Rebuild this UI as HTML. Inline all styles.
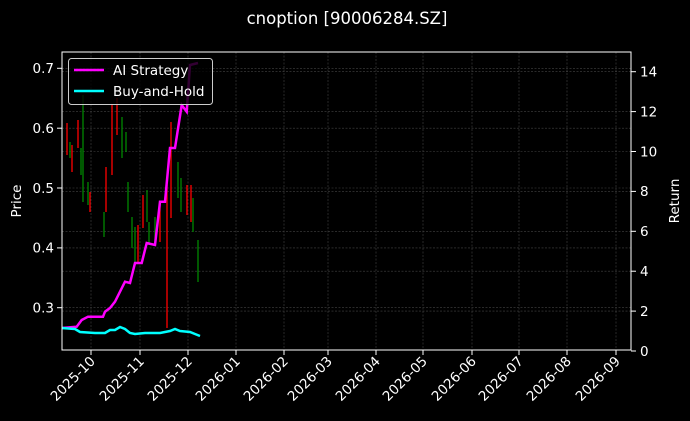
<!DOCTYPE html>
<html><head><meta charset="utf-8"><style>
html,body{margin:0;padding:0;background:#000;}
svg{display:block;font-family:"DejaVu Sans","Liberation Sans",sans-serif;}
</style></head><body>
<svg width="690" height="421" viewBox="0 0 690 421" xmlns="http://www.w3.org/2000/svg">
<rect width="690" height="421" fill="#000"/>
<text x="347" y="24" fill="#fff" font-size="16.5" text-anchor="middle">cnoption [90006284.SZ]</text>
<g stroke="#444" stroke-width="0.6" stroke-dasharray="2,1.5">
<line x1="91" y1="52" x2="91" y2="350"/><line x1="140" y1="52" x2="140" y2="350"/><line x1="188" y1="52" x2="188" y2="350"/><line x1="236" y1="52" x2="236" y2="350"/><line x1="284" y1="52" x2="284" y2="350"/><line x1="328" y1="52" x2="328" y2="350"/><line x1="376" y1="52" x2="376" y2="350"/><line x1="423" y1="52" x2="423" y2="350"/><line x1="472" y1="52" x2="472" y2="350"/><line x1="519" y1="52" x2="519" y2="350"/><line x1="567" y1="52" x2="567" y2="350"/><line x1="616" y1="52" x2="616" y2="350"/>
<line x1="62" y1="68.3" x2="631" y2="68.3"/><line x1="62" y1="128.2" x2="631" y2="128.2"/><line x1="62" y1="188" x2="631" y2="188"/><line x1="62" y1="247.9" x2="631" y2="247.9"/><line x1="62" y1="307.7" x2="631" y2="307.7"/>
<line x1="62" y1="71.7" x2="631" y2="71.7"/><line x1="62" y1="111.6" x2="631" y2="111.6"/><line x1="62" y1="151.5" x2="631" y2="151.5"/><line x1="62" y1="191.4" x2="631" y2="191.4"/><line x1="62" y1="231.3" x2="631" y2="231.3"/><line x1="62" y1="271.2" x2="631" y2="271.2"/><line x1="62" y1="311.1" x2="631" y2="311.1"/>
</g>
<g stroke-width="1.3">
<line x1="67" y1="123" x2="67" y2="155" stroke="#f00"/>
<line x1="70" y1="142" x2="70" y2="158" stroke="#080"/>
<line x1="72" y1="145" x2="72" y2="172" stroke="#f00"/>
<line x1="78" y1="120" x2="78" y2="148" stroke="#f00"/>
<line x1="81" y1="148" x2="81" y2="175" stroke="#080"/>
<line x1="83" y1="95" x2="83" y2="202" stroke="#080"/>
<line x1="88" y1="182" x2="88" y2="205" stroke="#080"/>
<line x1="90" y1="192" x2="90" y2="212" stroke="#f00"/>
<line x1="104" y1="212" x2="104" y2="237" stroke="#080"/>
<line x1="106" y1="167" x2="106" y2="212" stroke="#f00"/>
<line x1="112" y1="105" x2="112" y2="175" stroke="#f00"/>
<line x1="117" y1="98" x2="117" y2="135" stroke="#f00"/>
<line x1="122" y1="117" x2="122" y2="158" stroke="#080"/>
<line x1="126" y1="132" x2="126" y2="152" stroke="#080"/>
<line x1="128" y1="182" x2="128" y2="212" stroke="#080"/>
<line x1="132" y1="217" x2="132" y2="248" stroke="#080"/>
<line x1="135" y1="227" x2="135" y2="265" stroke="#080"/>
<line x1="138" y1="225" x2="138" y2="262" stroke="#f00"/>
<line x1="143" y1="195" x2="143" y2="228" stroke="#f00"/>
<line x1="147" y1="190" x2="147" y2="222" stroke="#080"/>
<line x1="149" y1="222" x2="149" y2="245" stroke="#080"/>
<line x1="155" y1="217" x2="155" y2="242" stroke="#080"/>
<line x1="160" y1="202" x2="160" y2="242" stroke="#f00"/>
<line x1="167" y1="185" x2="167" y2="328" stroke="#f00"/>
<line x1="171" y1="122" x2="171" y2="218" stroke="#f00"/>
<line x1="178" y1="162" x2="178" y2="198" stroke="#080"/>
<line x1="181" y1="178" x2="181" y2="212" stroke="#080"/>
<line x1="187" y1="185" x2="187" y2="215" stroke="#f00"/>
<line x1="191" y1="185" x2="191" y2="222" stroke="#f00"/>
<line x1="193" y1="198" x2="193" y2="232" stroke="#080"/>
<line x1="198" y1="240" x2="198" y2="282" stroke="#080"/>
</g>
<polyline fill="none" stroke="#ff00ff" stroke-width="2.5" points="61.7,328 76.7,326.7 81.7,320 88,316.7 103,316.7 105,311.7 110,308 115,301.7 120,291.7 125,281.7 130,283 135,263 141.7,263 146.7,243 155,245 160,201.7 165,201.7 170,148 175,148 181.7,105 186.7,111.7 190,65 198,63"/>
<polyline fill="none" stroke="#00ffff" stroke-width="2.5" points="61.7,328 75,329 80,332 95,333 105,333 110,330 115,330 120,327 125,329 130,333 135,334 145,333 160,333 170,331 175,329 180,331 190,332 195,334 200,336"/>
<rect x="62" y="52" width="569" height="298" fill="none" stroke="#fff" stroke-width="1"/>
<g stroke="#fff" stroke-width="1">
<line x1="57" y1="68.3" x2="62" y2="68.3"/><line x1="57" y1="128.2" x2="62" y2="128.2"/><line x1="57" y1="188" x2="62" y2="188"/><line x1="57" y1="247.9" x2="62" y2="247.9"/><line x1="57" y1="307.7" x2="62" y2="307.7"/>
<line x1="631" y1="71.7" x2="636" y2="71.7"/><line x1="631" y1="111.6" x2="636" y2="111.6"/><line x1="631" y1="151.5" x2="636" y2="151.5"/><line x1="631" y1="191.4" x2="636" y2="191.4"/><line x1="631" y1="231.3" x2="636" y2="231.3"/><line x1="631" y1="271.2" x2="636" y2="271.2"/><line x1="631" y1="311.1" x2="636" y2="311.1"/><line x1="631" y1="351" x2="636" y2="351"/>
<line x1="91" y1="350" x2="91" y2="355"/><line x1="140" y1="350" x2="140" y2="355"/><line x1="188" y1="350" x2="188" y2="355"/><line x1="236" y1="350" x2="236" y2="355"/><line x1="284" y1="350" x2="284" y2="355"/><line x1="328" y1="350" x2="328" y2="355"/><line x1="376" y1="350" x2="376" y2="355"/><line x1="423" y1="350" x2="423" y2="355"/><line x1="472" y1="350" x2="472" y2="355"/><line x1="519" y1="350" x2="519" y2="355"/><line x1="567" y1="350" x2="567" y2="355"/><line x1="616" y1="350" x2="616" y2="355"/>
</g>
<g fill="#fff" font-size="13.5" text-anchor="end">
<text x="54" y="73">0.7</text><text x="54" y="133">0.6</text><text x="54" y="192.8">0.5</text><text x="54" y="252.7">0.4</text><text x="54" y="312.5">0.3</text>
</g>
<g fill="#fff" font-size="13.5">
<text x="640" y="76.5">14</text><text x="640" y="116.4">12</text><text x="640" y="156.3">10</text><text x="640" y="196.2">8</text><text x="640" y="236.1">6</text><text x="640" y="276">4</text><text x="640" y="315.9">2</text><text x="640" y="355.8">0</text>
</g>
<text transform="translate(21,201) rotate(-90)" fill="#fff" font-size="13.5" text-anchor="middle">Price</text>
<text transform="translate(679,201) rotate(-90)" fill="#fff" font-size="13.5" text-anchor="middle">Return</text>
<g fill="#fff" font-size="13.5" text-anchor="end">
<text transform="translate(96,362) rotate(-45)">2025-10</text>
<text transform="translate(145,362) rotate(-45)">2025-11</text>
<text transform="translate(193,362) rotate(-45)">2025-12</text>
<text transform="translate(241,362) rotate(-45)">2026-01</text>
<text transform="translate(289,362) rotate(-45)">2026-02</text>
<text transform="translate(333,362) rotate(-45)">2026-03</text>
<text transform="translate(381,362) rotate(-45)">2026-04</text>
<text transform="translate(428,362) rotate(-45)">2026-05</text>
<text transform="translate(477,362) rotate(-45)">2026-06</text>
<text transform="translate(524,362) rotate(-45)">2026-07</text>
<text transform="translate(572,362) rotate(-45)">2026-08</text>
<text transform="translate(621,362) rotate(-45)">2026-09</text>
</g>
<rect x="68.5" y="58.5" width="144" height="46" rx="3" fill="#000" fill-opacity="0.8" stroke="#ccc" stroke-width="1"/>
<line x1="74" y1="70" x2="104" y2="70" stroke="#ff00ff" stroke-width="2.5"/>
<line x1="74" y1="91" x2="104" y2="91" stroke="#00ffff" stroke-width="2.5"/>
<text x="113" y="75" fill="#fff" font-size="13.5">AI Strategy</text>
<text x="113" y="96" fill="#fff" font-size="13.5">Buy-and-Hold</text>
</svg>
</body></html>
